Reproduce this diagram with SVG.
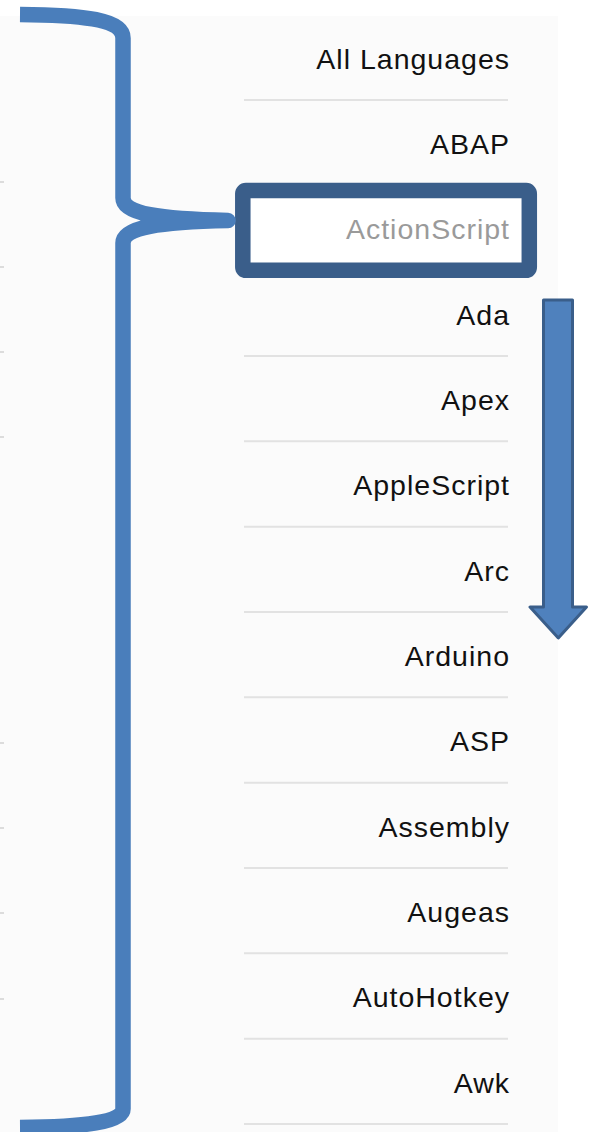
<svg xmlns="http://www.w3.org/2000/svg" width="592" height="1132" viewBox="0 0 592 1132">
<style>
.sep{stroke:#e2e2e2;stroke-width:2}
.tick{stroke:#dcdcdc;stroke-width:2}
.lbl{font-family:"Liberation Sans",Arial,sans-serif;font-size:28.5px;letter-spacing:1px;fill:#111;text-anchor:end}
.sel{fill:#9a9a9a}
</style>
<rect x="0" y="0" width="592" height="1132" fill="#ffffff"/>
<rect x="0" y="16" width="558" height="1116" fill="#fbfbfb"/>
<g id="ticks">
<line class="tick" x1="0" y1="182" x2="4" y2="182"/>
<line class="tick" x1="0" y1="267" x2="4" y2="267"/>
<line class="tick" x1="0" y1="352" x2="4" y2="352"/>
<line class="tick" x1="0" y1="437" x2="4" y2="437"/>
<line class="tick" x1="0" y1="743" x2="4" y2="743"/>
<line class="tick" x1="0" y1="828" x2="4" y2="828"/>
<line class="tick" x1="0" y1="913" x2="4" y2="913"/>
<line class="tick" x1="0" y1="999" x2="4" y2="999"/>
</g>
<g id="separators">
<line class="sep" x1="244" y1="100" x2="508" y2="100"/>
<line class="sep" x1="244" y1="185.3" x2="508" y2="185.3"/>
<line class="sep" x1="244" y1="270.7" x2="508" y2="270.7"/>
<line class="sep" x1="244" y1="356" x2="508" y2="356"/>
<line class="sep" x1="244" y1="441.3" x2="508" y2="441.3"/>
<line class="sep" x1="244" y1="526.7" x2="508" y2="526.7"/>
<line class="sep" x1="244" y1="612" x2="508" y2="612"/>
<line class="sep" x1="244" y1="697.3" x2="508" y2="697.3"/>
<line class="sep" x1="244" y1="782.7" x2="508" y2="782.7"/>
<line class="sep" x1="244" y1="868" x2="508" y2="868"/>
<line class="sep" x1="244" y1="953.3" x2="508" y2="953.3"/>
<line class="sep" x1="244" y1="1038.7" x2="508" y2="1038.7"/>
<line class="sep" x1="244" y1="1124" x2="508" y2="1124"/>
</g>
<g id="item-all"><text class="lbl" x="510" y="68.5">All Languages</text></g>
<g id="item-abap"><text class="lbl" x="510" y="153.8">ABAP</text></g>
<g id="item-actionscript">
<rect x="242.8" y="190.5" width="286.5" height="79.8" rx="3" fill="#ffffff" stroke="#3a5e8a" stroke-width="15.5"/>
<text class="lbl sel" x="510" y="239.2">ActionScript</text>
</g>
<g id="item-ada"><text class="lbl" x="510" y="324.5">Ada</text></g>
<g id="item-apex"><text class="lbl" x="510" y="409.8">Apex</text></g>
<g id="item-applescript"><text class="lbl" x="510" y="495.2">AppleScript</text></g>
<g id="item-arc"><text class="lbl" x="510" y="580.5">Arc</text></g>
<g id="item-arduino"><text class="lbl" x="510" y="665.8">Arduino</text></g>
<g id="item-asp"><text class="lbl" x="510" y="751.2">ASP</text></g>
<g id="item-assembly"><text class="lbl" x="510" y="836.5">Assembly</text></g>
<g id="item-augeas"><text class="lbl" x="510" y="921.8">Augeas</text></g>
<g id="item-autohotkey"><text class="lbl" x="510" y="1007.2">AutoHotkey</text></g>
<g id="item-awk"><text class="lbl" x="510" y="1092.5">Awk</text></g>
<g id="connectors">
<path d="M20,14.5 C85,15 123,20 123,38 L123,198 C123,214 160,219 228,220.5 C160,222 123,227 123,243 L123,1109 C123,1122 85,1127 20,1127.5" fill="none" stroke="#4a7ebb" stroke-width="15.5" stroke-linejoin="round" stroke-linecap="butt"/>
<path d="M543.5,300 L572.5,300 L572.5,607 L586.5,607 L558.3,638 L530,607 L543.5,607 Z" fill="#4f81bd" stroke="#3a5e8a" stroke-width="3" stroke-linejoin="round"/>
</g>
</svg>
